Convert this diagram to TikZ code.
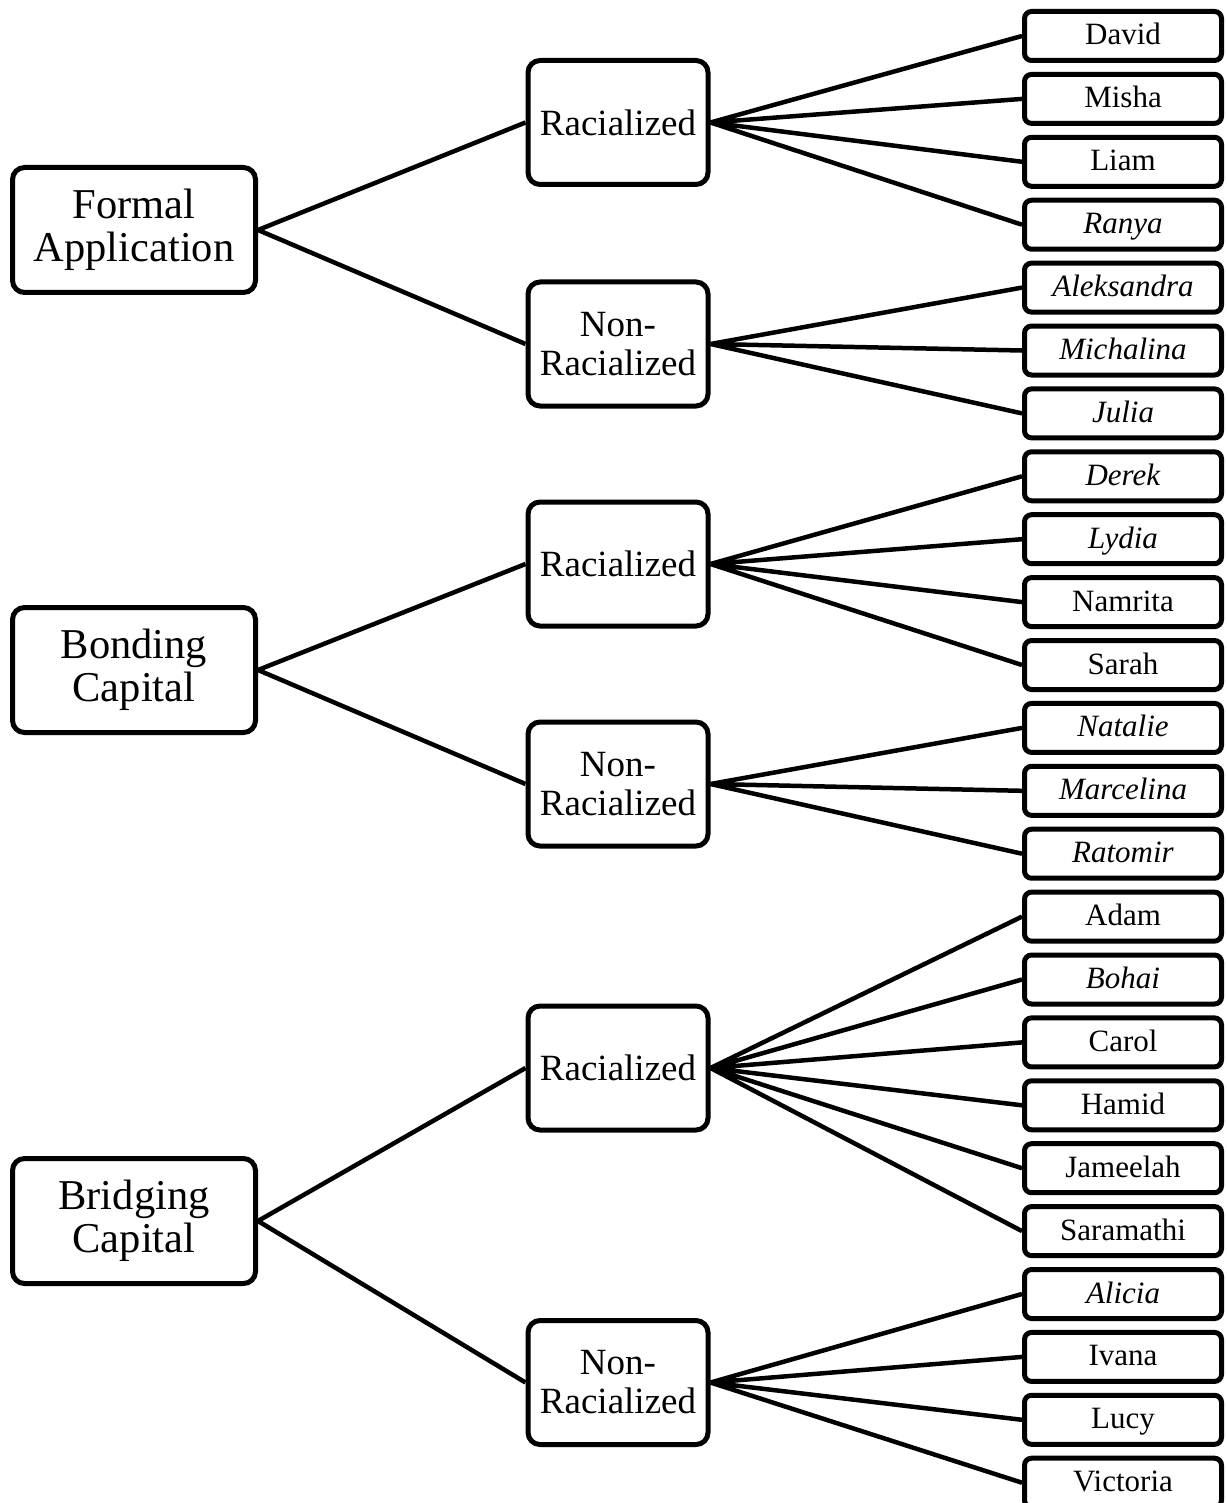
\documentclass[tikz,border=0pt]{standalone}
\usepackage{fontspec}
\setmainfont{Liberation Serif}
\usetikzlibrary{positioning}

\begin{document}
\begin{tikzpicture}[
  x=1pt, y=-1pt,
  node distance=8.9pt,
  top/.style={draw, line width=5pt, rounded corners=12pt, minimum width=243pt, minimum height=125pt, align=center, font=\fontsize{42.5}{42.5}\selectfont},
  mid/.style={draw, line width=5pt, rounded corners=12pt, minimum width=180pt, minimum height=124pt, align=center, font=\fontsize{37}{39}\selectfont},
  leaf/.style={draw, line width=5pt, rounded corners=7pt, minimum width=197pt, minimum height=49pt, text height=19pt, text depth=1pt, font=\fontsize{31}{32}\selectfont},
  link/.style={line width=4.5pt}
]
  \useasboundingbox (0,0) rectangle (1226,1503);

  % left column
  \node[top] (fa) at (134,230) {Formal\\Application};
  \node[top] (bc) at (134,670) {Bonding\\Capital};
  \node[top] (bg) at (134,1221) {Bridging\\Capital};

  % middle column
  \node[mid] (faR) at (618,122.5) {Racialized};
  \node[mid] (faN) at (618,344) {Non-\\Racialized};
  \node[mid] (bcR) at (618,564) {Racialized};
  \node[mid] (bcN) at (618,784) {Non-\\Racialized};
  \node[mid] (bgR) at (618,1068) {Racialized};
  \node[mid] (bgN) at (618,1382.5) {Non-\\Racialized};

  % leaves
  \node[leaf] (david) at (1123,36) {David};
  \node[leaf, below=of david] (misha) {Misha};
  \node[leaf, below=of misha] (liam) {Liam};
  \node[leaf, below=of liam] (ranya) {\textit{Ranya}};
  \node[leaf, below=of ranya] (aleksandra) {\textit{Aleksandra}};
  \node[leaf, below=of aleksandra] (michalina) {\textit{Michalina}};
  \node[leaf, below=of michalina] (julia) {\textit{Julia}};
  \node[leaf, below=of julia] (derek) {\textit{Derek}};
  \node[leaf, below=of derek] (lydia) {\textit{Lydia}};
  \node[leaf, below=of lydia] (namrita) {Namrita};
  \node[leaf, below=of namrita] (sarah) {Sarah};
  \node[leaf, below=of sarah] (natalie) {\textit{Natalie}};
  \node[leaf, below=of natalie] (marcelina) {\textit{Marcelina}};
  \node[leaf, below=of marcelina] (ratomir) {\textit{Ratomir}};
  \node[leaf, below=of ratomir] (adam) {Adam};
  \node[leaf, below=of adam] (bohai) {\textit{Bohai}};
  \node[leaf, below=of bohai] (carol) {Carol};
  \node[leaf, below=of carol] (hamid) {Hamid};
  \node[leaf, below=of hamid] (jameelah) {Jameelah};
  \node[leaf, below=of jameelah] (saramathi) {Saramathi};
  \node[leaf, below=of saramathi] (alicia) {\textit{Alicia}};
  \node[leaf, below=of alicia] (ivana) {Ivana};
  \node[leaf, below=of ivana] (lucy) {Lucy};
  \node[leaf, below=of lucy] (victoria) {Victoria};

  % links
  \draw[link] (fa.east) -- (faR.west) (fa.east) -- (faN.west);
  \draw[link] (bc.east) -- (bcR.west) (bc.east) -- (bcN.west);
  \draw[link] (bg.east) -- (bgR.west) (bg.east) -- (bgN.west);

  \draw[link] (faR.east) -- (david.west) (faR.east) -- (misha.west)
    (faR.east) -- (liam.west) (faR.east) -- (ranya.west);
  \draw[link] (faN.east) -- (aleksandra.west) (faN.east) -- (michalina.west)
    (faN.east) -- (julia.west);
  \draw[link] (bcR.east) -- (derek.west) (bcR.east) -- (lydia.west)
    (bcR.east) -- (namrita.west) (bcR.east) -- (sarah.west);
  \draw[link] (bcN.east) -- (natalie.west) (bcN.east) -- (marcelina.west)
    (bcN.east) -- (ratomir.west);
  \draw[link] (bgR.east) -- (adam.west) (bgR.east) -- (bohai.west)
    (bgR.east) -- (carol.west) (bgR.east) -- (hamid.west)
    (bgR.east) -- (jameelah.west) (bgR.east) -- (saramathi.west);
  \draw[link] (bgN.east) -- (alicia.west) (bgN.east) -- (ivana.west)
    (bgN.east) -- (lucy.west) (bgN.east) -- (victoria.west);
\end{tikzpicture}
\end{document}
